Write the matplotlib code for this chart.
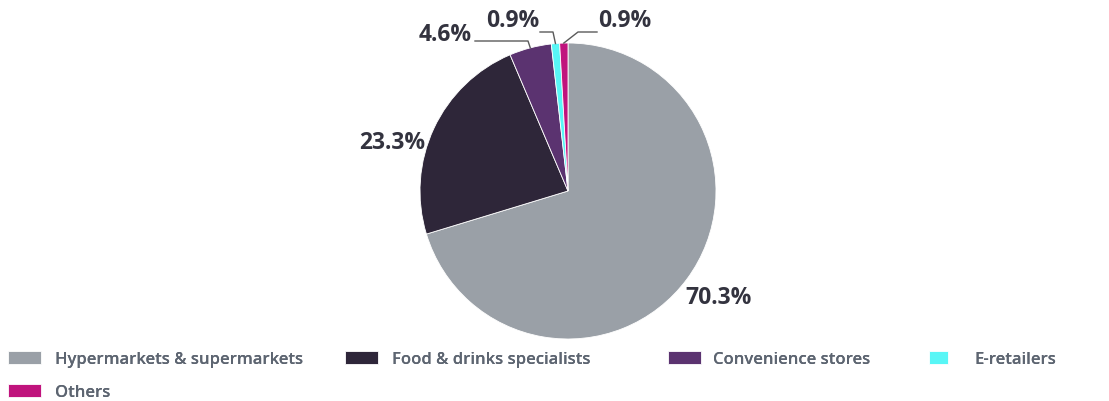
import numpy as np
import matplotlib.pyplot as plt

categories = ['Hypermarkets & supermarkets', 'Food & drinks specialists',
              'Convenience stores', 'E-retailers', 'Others']
shares = [70.3, 23.3, 4.6, 0.9, 0.9]
labels = ['70.3%', '23.3%', '4.6%', '0.9%', '0.9%']
colors = ['#9aa0a7', '#2e2639', '#5b3370', '#58f6f6', '#c0137d']

W, H = 1109, 402
fig = plt.figure(figsize=(W / 100, H / 100), dpi=100)

# pie centre / radius in pixels
cx, cy, r = 568, 192, 148
ax = fig.add_axes([(cx - r) / W, (H - cy - r) / H, 2 * r / W, 2 * r / H])
wedges, _ = ax.pie(shares, colors=colors, startangle=90, counterclock=False,
                   wedgeprops=dict(edgecolor='white', linewidth=0.6))
ax.set_xlim(-1, 1)
ax.set_ylim(-1, 1)
ax.set_aspect('equal')
ax.axis('off')

def px(x, y):
    return ((x - cx) / r, (cy - y) / r)

lab_kw = dict(fontsize=16.5, fontweight='bold', color='#33333f',
              family='Open Sans', va='center', ha='center')

# big labels without leaders
ax.text(*px(719, 298), labels[0], **lab_kw)
ax.text(*px(392, 143), labels[1], **lab_kw)

# small slices with leader lines
line_kw = dict(color='#5a5a5a', lw=1)
mids = []
for w in wedges:
    a = np.deg2rad((w.theta1 + w.theta2) / 2)
    mids.append((np.cos(a), np.sin(a)))

ax.text(*px(445, 35), labels[2], **lab_kw)
x0, y0 = px(475, 42)
x1, _ = px(528, 42)
ax.plot([x0, x1, mids[2][0]], [y0, y0, mids[2][1]], **line_kw, clip_on=False)

ax.text(*px(513, 21), labels[3], **lab_kw)
x0, y0 = px(540, 33)
x1, _ = px(553, 33)
ax.plot([x0, x1, mids[3][0]], [y0, y0, mids[3][1]], **line_kw, clip_on=False)

ax.text(*px(625, 21), labels[4], **lab_kw)
x0, y0 = px(597, 33)
x1, _ = px(578, 33)
ax.plot([x0, x1, mids[4][0]], [y0, y0, mids[4][1]], **line_kw, clip_on=False)

# legend: one legend per column so the columns sit where the original has them
columns = [([0, 4], 8, 2.0, 0.85),
           ([1], 345, 2.0, 0.85),
           ([2], 668, 2.0, 0.7),
           ([3], 929, 1.15, 1.6)]
for idx, x_px, hl, pad in columns:
    leg = fig.legend([wedges[i] for i in idx], [categories[i] for i in idx],
                     loc='upper left', bbox_to_anchor=(x_px / W, (H - 352) / H),
                     bbox_transform=fig.transFigure, ncol=1, frameon=False,
                     prop=dict(family='Open Sans', size=12, weight='semibold'),
                     handlelength=hl, handleheight=0.8, handletextpad=pad,
                     labelspacing=1.0, borderaxespad=0, borderpad=0)
    for t in leg.get_texts():
        t.set_color('#5d6571')
    fig.add_artist(leg)

fig.savefig('out.png', dpi=100)
